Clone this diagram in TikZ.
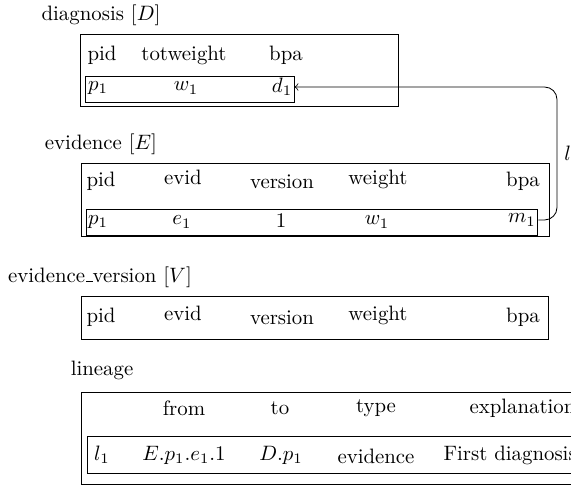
\documentclass[tikz,border=0pt]{standalone}
\usetikzlibrary{fit}
% low underscore in the style of the old OT1 \_
\newcommand\lowscore{\leavevmode\kern.06em\vbox{\hrule width.3em}}
\begin{document}
\begin{tikzpicture}[x=0.48pt,y=-0.48pt,
  frame/.style={draw, inner sep=0pt},
  cell/.style={inner sep=1pt},
  title/.style={inner sep=1pt},
  link/.style={->, rounded corners=6pt}]
\useasboundingbox (0,0) rectangle (571,487);
\clip (0,0) rectangle (571,487);

% ---------- diagnosis ----------
\node[title] (tD) at (101,15) {diagnosis $[D]$};
\node[frame, fit={(80,34) (398,106)}] (D) {};
\node[frame, fit={(85,76) (294,102)}] (Drow) {};
\node[cell] (Dh1) at (102,55) {pid};
\node[cell] (Dh2) at (184,55) {totweight};
\node[cell] (Dh3) at (286,55) {bpa};
\node[cell] (Dr1) at (98,88) {$p_1$};
\node[cell] (Dr2) at (186,88) {$w_1$};
\node[cell] (d1) at (282,87) {$d_1$};

% ---------- evidence ----------
\node[title] (tE) at (101,144) {evidence $[E]$};
\node[frame, fit={(81,163) (549,236)}] (E) {};
\node[frame, fit={(86,209) (537,235)}] (Erow) {};
\node[cell] (Eh1) at (101,181) {pid};
\node[cell] (Eh2) at (183,177) {evid};
\node[cell] (Eh3) at (282,182) {version};
\node[cell] (Eh4) at (378,179) {weight};
\node[cell] (Eh5) at (523,181) {bpa};
\node[cell] (Er1) at (98,222) {$p_1$};
\node[cell] (Er2) at (182,222) {$e_1$};
\node[cell] (Er3) at (281,221) {1};
\node[cell] (Er4) at (377,222) {$w_1$};
\node[cell] (m1) at (522,220) {$m_1$};

% ---------- evidence_version ----------
\node[title] (tV) at (100,277) {evidence\lowscore version $[V]$};
\node[frame, fit={(81,296) (548,339)}] (V) {};
\node[cell] (Vh1) at (101,317) {pid};
\node[cell] (Vh2) at (183,313) {evid};
\node[cell] (Vh3) at (282,318) {version};
\node[cell] (Vh4) at (378,315) {weight};
\node[cell] (Vh5) at (523,317) {bpa};

% ---------- lineage ----------
\node[title] (tL) at (102,370) {lineage};
\node[frame, fit={(81,392) (620,484)}] (L) {};
\node[frame, fit={(87,436) (610,473)}] (Lrow) {};
\node[cell] (Lh2) at (184,408) {from};
\node[cell] (Lh3) at (280,408) {to};
\node[cell] (Lh4) at (376,408) {type};
\node[cell, anchor=west] (Lh5) at (467,408) {explanation};
\node[cell] (Lr1) at (102,455) {$l_1$};
\node[cell] (Lr2) at (184,455) {$E.p_1.e_1.1$};
\node[cell] (Lr3) at (281,455) {$D.p_1$};
\node[cell] (Lr4) at (376,456) {evidence};
\node[cell, anchor=west] (Lr5) at (441,455) {First diagnosis};

% ---------- lineage link from m1 back to d1 ----------
\coordinate (bend) at (557,0);
\draw[link] (m1.east) -- (m1.east -| bend)
  -- node[right] {$l$} (bend |- d1.east) -- (d1.east);
\end{tikzpicture}
\end{document}
